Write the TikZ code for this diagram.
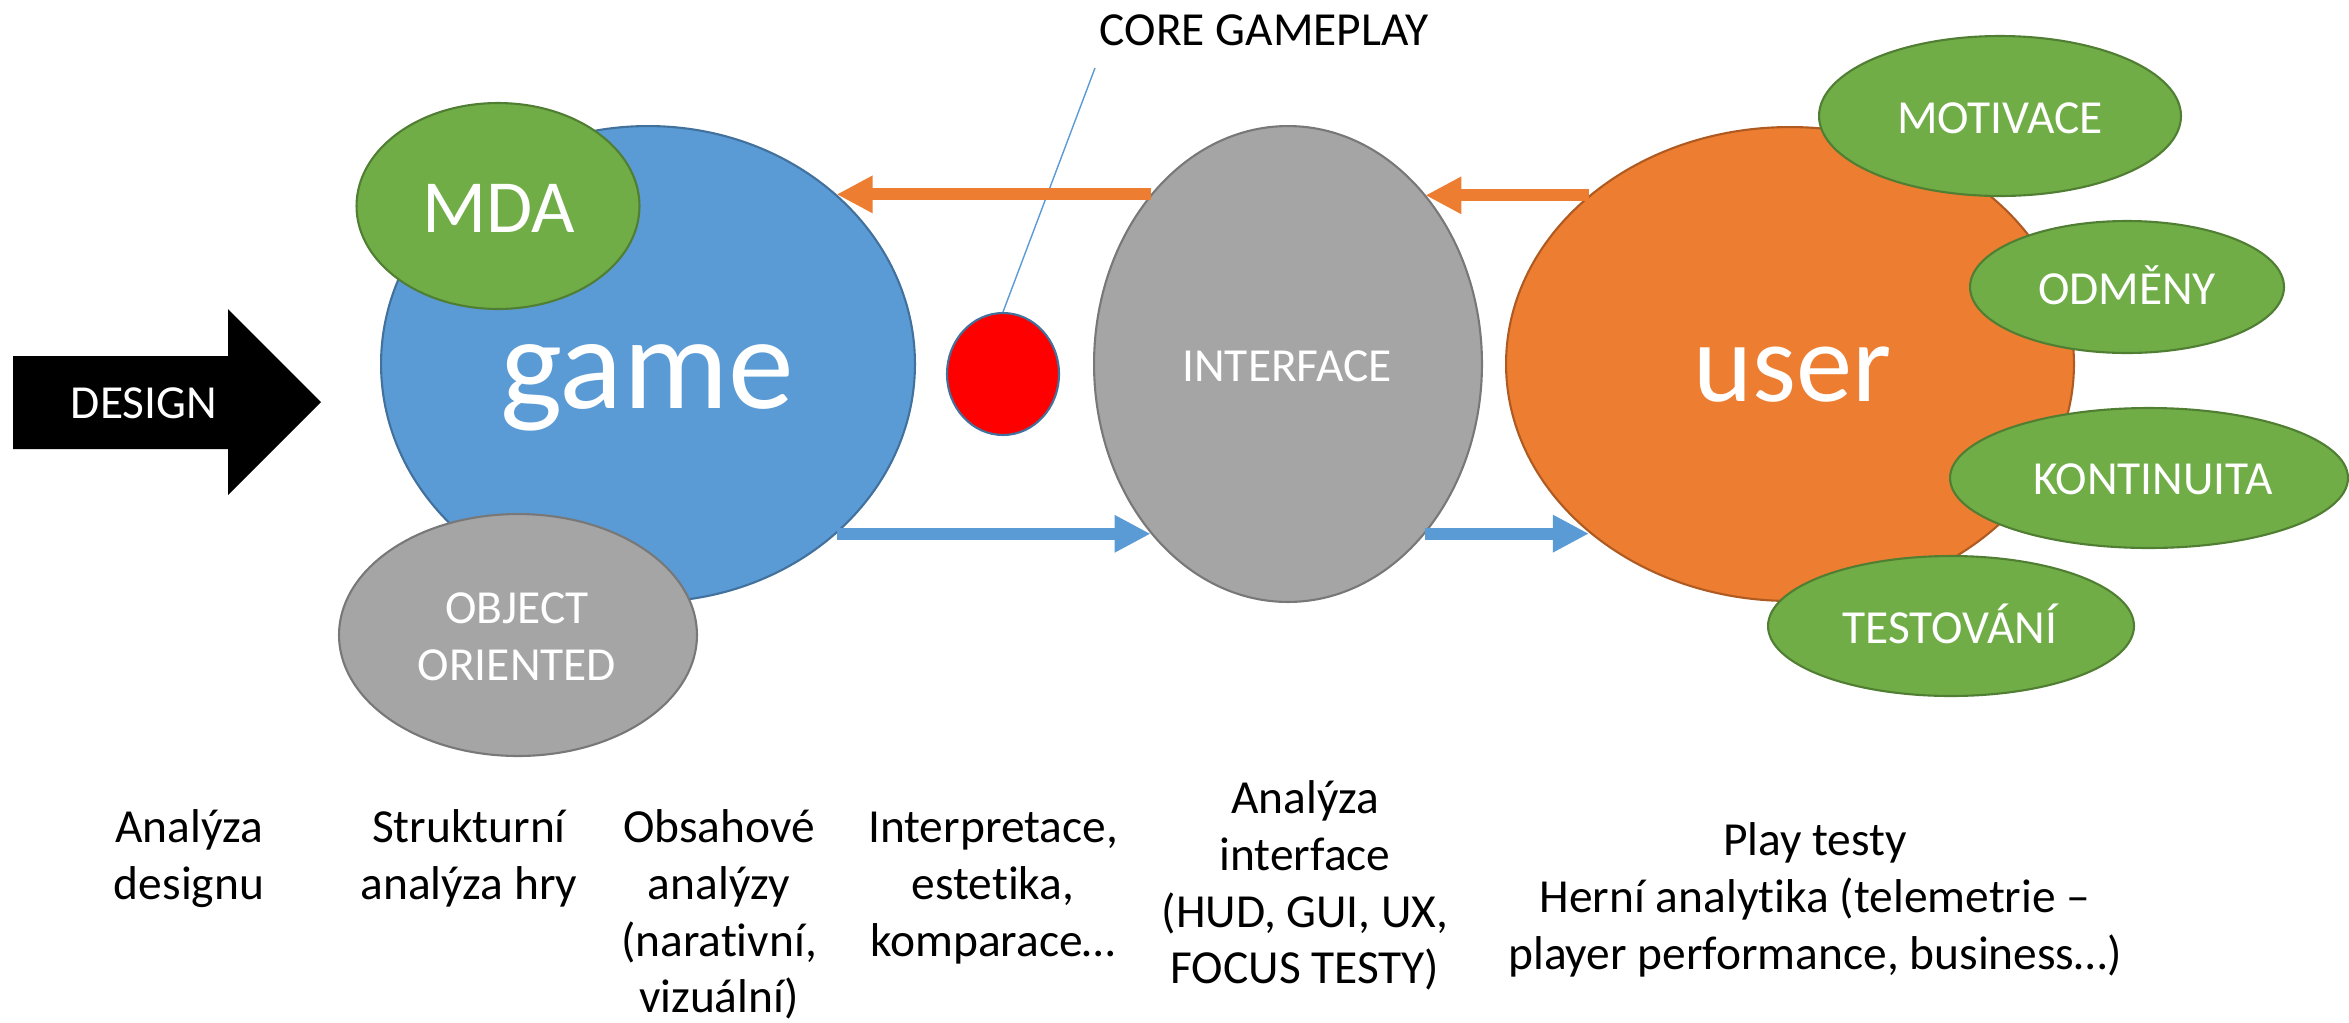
\documentclass[tikz,border=0pt]{standalone}
\usepackage{fontspec}
\setmainfont{Carlito}[Ligatures=CommonOff]
\usetikzlibrary{shapes.geometric, arrows.meta, calc}

\definecolor{gameblue}{HTML}{5B9BD5}
\definecolor{blueline}{HTML}{41719C}
\definecolor{tagreen}{HTML}{70AD47}
\definecolor{greenline}{HTML}{507E32}
\definecolor{ifgray}{HTML}{A5A5A5}
\definecolor{grayline}{HTML}{787878}
\definecolor{useorange}{HTML}{ED7D31}
\definecolor{orangeline}{HTML}{AE5A21}

\begin{document}
\begin{tikzpicture}[x=0.02cm, y=-0.02cm,
        blob/.style={ellipse, line width=1.2pt, inner sep=0pt},
        tag/.style={blob, draw=greenline, fill=tagreen},
        inlbl/.style={text=white, inner sep=0pt, anchor=base, font=\fontsize{27}{32.4}\selectfont},
        note/.style={align=center, anchor=north, inner sep=0pt, font=\fontsize{27}{32.4}\selectfont},
        flow/.style={line width=0.24cm, -{Triangle[length=0.72cm, width=0.7cm]}}]
    \useasboundingbox (0,0) rectangle (2349,1022);

    % Design arrow
    \fill (13,356) -- (228,356) -- (228,309) -- (321,402) -- (228,495) -- (228,449) -- (13,449) -- cycle;
    \node[inlbl] (design) at (144,418) {DESIGN};

    % game with its parts
    \node[blob, draw=blueline, fill=gameblue, minimum width=10.68cm, minimum height=9.52cm] (game) at (648,364) {};
    \node[inlbl, font=\fontsize{75}{90}\selectfont] (gamelbl) at (647,408) {game};
    \node[tag, minimum width=5.66cm, minimum height=4.12cm] (mda) at (498,206) {};
    \node[inlbl, font=\fontsize{42.7}{51}\selectfont] (mdalbl) at (499,232) {MDA};
    \node[blob, draw=grayline, fill=ifgray, minimum width=7.16cm, minimum height=4.84cm] (oo) at (518,635) {};
    \node[note, text=white] (oolbl) at (517,583) {\strut OBJECT\\ORIENTED};

    % core gameplay
    \node[blob, draw=blueline, fill=red, minimum width=2.24cm, minimum height=2.44cm] (dot) at (1003,374) {};
    \node[inlbl, text=black] (core) at (1264,45) {CORE GAMEPLAY};
    \coordinate (calltop) at (1095,68);
    \draw[gameblue, line width=0.8pt] (calltop) -- (dot.north);

    % interface
    \node[blob, draw=grayline, fill=ifgray, minimum width=7.76cm, minimum height=9.52cm] (interface) at (1288,364) {};
    \node[inlbl] (iflbl) at (1287,381) {INTERFACE};

    % user with its parts
    \node[blob, draw=orangeline, fill=useorange, minimum width=11.36cm, minimum height=9.48cm] (user) at (1790,364) {};
    \node[inlbl, font=\fontsize{64}{77}\selectfont] (userlbl) at (1793,401) {user};
    \node[tag, minimum width=7.24cm, minimum height=3.2cm] (motiv) at (2000,116) {};
    \node[inlbl] (motivlbl) at (2000,133) {MOTIVACE};
    \node[tag, minimum width=6.28cm, minimum height=2.64cm] (odm) at (2127,287) {};
    \node[inlbl] (odmlbl) at (2127,304) {ODMĚNY};
    \node[tag, minimum width=7.96cm, minimum height=2.8cm] (kont) at (2149,478) {};
    \node[inlbl] (kontlbl) at (2153,494) {KONTINUITA};
    \node[tag, minimum width=7.32cm, minimum height=2.8cm] (test) at (1951,626) {};
    \node[inlbl] (testlbl) at (1950,643) {TESTOVÁNÍ};

    % Arrows between the three
    \draw[flow, useorange] (interface.129) -- (interface.129 -| game.42);
    \draw[flow, useorange] (user.140) -- (user.140 -| interface.51);
    \draw[flow, gameblue] (game.-42) -- (game.-42 -| interface.-129);
    \draw[flow, gameblue] (interface.-51) -- (interface.-51 -| user.-140);

    % Kinds of analysis
    \node[note] (an1) at (189,802) {\strut Analýza\\designu};
    \node[note] (an2) at (469,802) {\strut Strukturní\\analýza hry};
    \node[note] (an3) at (719,802) {\strut Obsahové\\analýzy\\(narativní,\\vizuální)};
    \node[note] (an4) at (993,802) {\strut Interpretace,\\estetika,\\komparace…};
    \node[note] (an5) at (1305,773) {\strut Analýza\\interface\\(HUD, GUI, UX,\\FOCUS TESTY)};
    \node[note] (an6) at (1815,815) {\strut Play testy\\Herní analytika (telemetrie –\\player performance, business…)};
\end{tikzpicture}
\end{document}
